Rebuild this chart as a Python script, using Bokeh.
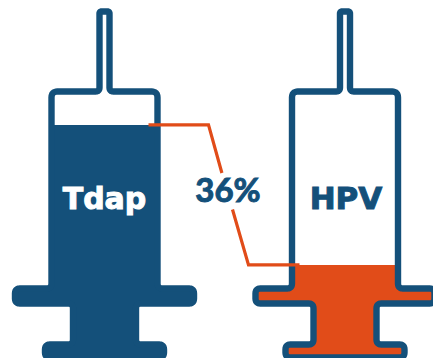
from bokeh.core.properties import value
from bokeh.embed import file_html
from bokeh.models import Range1d
from bokeh.plotting import figure
from bokeh.resources import INLINE
import numpy as np

# Data
vaccines = ["Tdap", "HPV"]
uptake_levels = [68, 32]
gap_label = "36%"

NAVY = "#14507a"
ORANGE = "#e14c19"
W, H = 433, 358
PX_PER_UNIT = 140 / (uptake_levels[0] - uptake_levels[1])


def yv(px):
    """Convert a downward distance from the top edge to the level scale."""
    return 100 - px / PX_PER_UNIT


def rounded(points, radii, samples=7):
    """Round the corners of an open polyline."""
    out = [points[0]]
    for i in range(1, len(points) - 1):
        p0, p1, p2 = (np.array(points[i + k], dtype=float) for k in (-1, 0, 1))
        r = radii[i]
        a = p1 + (p0 - p1) / np.linalg.norm(p0 - p1) * r
        b = p1 + (p2 - p1) / np.linalg.norm(p2 - p1) * r
        for t in np.linspace(0, 1, samples):
            q = (1 - t) ** 2 * a + 2 * t * (1 - t) * p1 + t**2 * b
            out.append(tuple(q))
    out.append(points[-1])
    return out


def half_profile():
    """Right half of the syringe centreline from needle tip to bottom edge."""
    pts = [(0, 11), (5, 11), (5, 91), (53, 91), (53, 288), (89.5, 288),
           (89.5, 303), (31.5, 303), (31.5, 344), (59.5, 344), (59.5, 357), (0, 357)]
    rad = [0, 2, 4, 6, 5, 5, 5, 5, 5, 5, 5, 0]
    return rounded(pts, rad)


profile = half_profile()
below_body = [pt for pt in profile if pt[1] >= 282]


def syringe_xy(cx):
    right = [(cx + x, yv(y)) for x, y in profile]
    left = [(cx - x, yv(y)) for x, y in reversed(profile)]
    pts = right + left[1:]
    return [p[0] for p in pts], [p[1] for p in pts]


def fill_xy(cx, level):
    right = [(cx + 53, level)] + [(cx + x, yv(y)) for x, y in below_body]
    left = [(cx - x, yv(y)) for x, y in reversed(below_body)] + [(cx - 53, level)]
    pts = right + left[1:]
    return [p[0] for p in pts], [p[1] for p in pts]


p = figure(width=W, height=H, x_range=Range1d(0, W), y_range=Range1d(yv(H), yv(0)),
           output_backend="svg", toolbar_location=None, min_border=0,
           outline_line_color=None, background_fill_color="white",
           border_fill_color="white")
p.axis.visible = False
p.grid.visible = False

centres = [104, 344.5]
fills = [NAVY, ORANGE]

for cx, level, colour in zip(centres, uptake_levels, fills):
    fx, fy = fill_xy(cx, level)
    p.patch(fx, fy, fill_color=colour, line_color=None)
    sx, sy = syringe_xy(cx)
    p.line(sx, sy, line_color=NAVY, line_width=6.4, line_join="round")

# Leader joining the two fill levels, broken around the label
upper_x, lower_x = 208, 248
p.line([148, upper_x, 221.4], [uptake_levels[0], uptake_levels[0], yv(172.5)],
       line_color=ORANGE, line_width=3.2, line_join="miter")
p.line([232, lower_x, 299], [yv(209), uptake_levels[1], uptake_levels[1]],
       line_color=ORANGE, line_width=3.2, line_join="miter")

font = value("DejaVu Sans")
p.text([centres[0]], [yv(198)], text=[vaccines[0]], text_color="white",
       text_font=font, text_font_style="bold", text_font_size="30px",
       text_outline_color="white", text_align="center", text_baseline="alphabetic")
p.text([centres[1] + 1], [yv(197.5)], text=[vaccines[1]], text_color=NAVY,
       text_font=font, text_font_style="bold", text_font_size="31px",
       text_outline_color=NAVY, text_align="center", text_baseline="alphabetic")
p.text([227.5], [yv(188)], text=[gap_label], text_color=NAVY,
       text_font=value("Lato"), text_font_style="bold",
       text_font_size="33px", text_outline_color=NAVY,
       text_align="center", text_baseline="alphabetic")

open("out.html", "w").write(file_html(p, INLINE))
